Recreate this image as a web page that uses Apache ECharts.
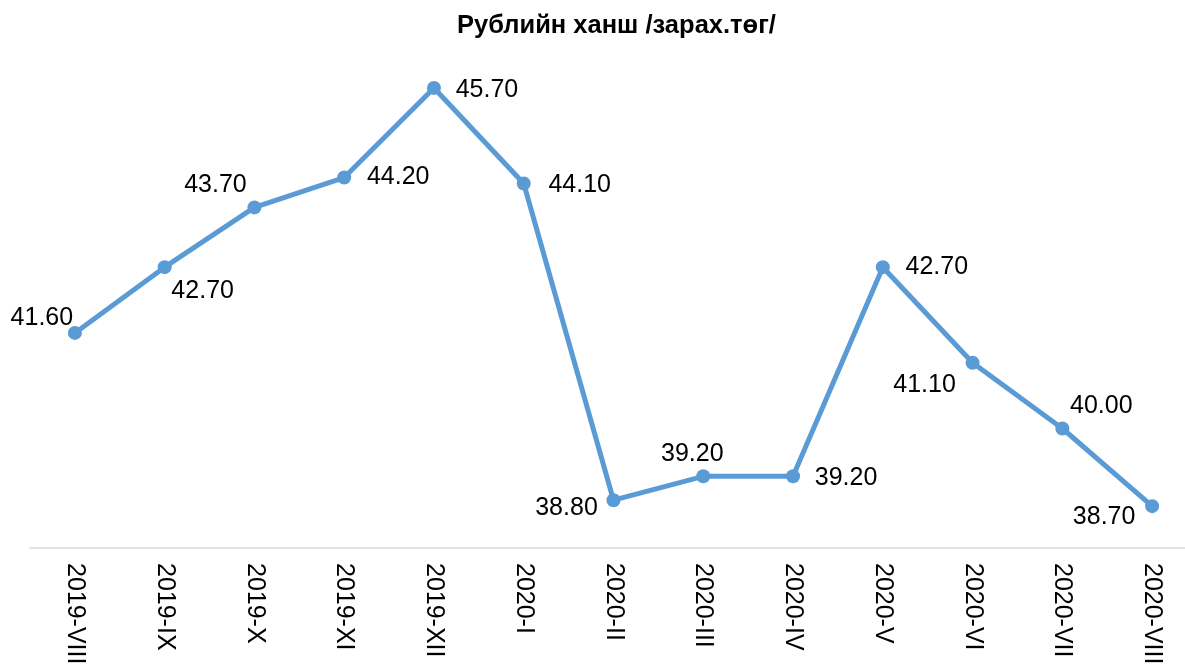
<!DOCTYPE html>
<html>
<head>
<meta charset="utf-8">
<script src="https://cdn.jsdelivr.net/npm/echarts@6/dist/echarts.min.js"></script>
<style>
  html, body { margin: 0; padding: 0; background: #fff; }
  #chart { width: 1185px; height: 668px; }
</style>
</head>
<body>
<div id="chart"></div>
<script>
// data
const months = ['2019-VIII', '2019-IX', '2019-X', '2019-XI', '2019-XII', '2020-I', '2020-II',
  '2020-III', '2020-IV', '2020-V', '2020-VI', '2020-VII', '2020-VIII'];
const rubleRate = [41.6, 42.7, 43.7, 44.2, 45.7, 44.1, 38.8, 39.2, 39.2, 42.7, 41.1, 40.0, 38.7];

// where each value label sits, relative to its point
const labelOffsets = [
  [-33, -15], [38, 24], [-39, -22], [54, 0], [53, 2], [56, 2], [-47, 8],
  [-11, -22], [53, 2], [54, 0], [-48, 22], [39, -22], [-48, 11]
];

const chart = echarts.init(document.getElementById('chart'));

const option = {
  animation: false,
  title: {
    text: 'Рублийн ханш /зарах.төг/',
    left: 452,
    top: 8,
    textStyle: {
      fontFamily: 'Liberation Sans, Arial, sans-serif',
      fontSize: 25.5,
      fontWeight: 'bold',
      color: '#000'
    }
  },
  grid: {
    left: 30,
    right: -12,
    top: 70,
    height: 478,
    outerBoundsMode: 'none'
  },
  xAxis: {
    type: 'category',
    data: months,
    boundaryGap: true,
    axisLine: { lineStyle: { color: '#d9d9d9', width: 1.5 } },
    axisTick: { show: false },
    axisLabel: {
      rotate: -90,
      interval: 0,
      margin: 15,
      color: '#000',
      fontSize: 25,
      fontFamily: 'Liberation Sans, Arial, sans-serif'
    }
  },
  yAxis: {
    type: 'value',
    min: 38,
    max: 46,
    show: false
  },
  series: [{
    type: 'line',
    data: rubleRate.map((v, i) => ({
      value: v,
      label: { offset: labelOffsets[i] }
    })),
    symbol: 'circle',
    symbolSize: 14,
    lineStyle: { color: '#5b9bd5', width: 5 },
    itemStyle: { color: '#5b9bd5' },
    label: {
      show: true,
      position: 'inside',
      align: 'center',
      verticalAlign: 'middle',
      formatter: p => p.value.toFixed(2),
      color: '#000',
      fontSize: 25,
      fontFamily: 'Liberation Sans, Arial, sans-serif'
    }
  }]
};

chart.setOption(option);
</script>
</body>
</html>
